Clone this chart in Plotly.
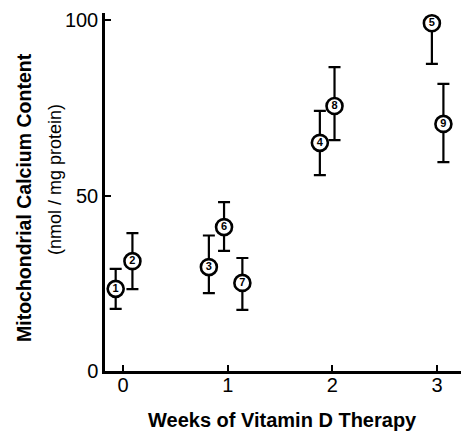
import plotly.graph_objects as go

# Data
labels = ["1", "2", "3", "6", "7", "4", "8", "5", "9"]
weeks = [-0.07, 0.09, 0.82, 0.965, 1.14, 1.88, 2.02, 2.95, 3.06]
calcium = [23.4, 31.3, 29.6, 41.0, 25.1, 65.0, 75.5, 99.1, 70.4]
err_plus = [5.7, 8.0, 9.0, 7.1, 7.1, 9.1, 11.1, 0.0, 11.4]
err_minus = [5.7, 8.0, 7.4, 6.8, 7.7, 9.2, 9.7, 11.6, 10.9]

x_ticks = [0, 1, 2, 3]
y_ticks = [0, 50, 100]

FONT = "Liberation Sans"

L, R, T, B = 105, 461, 13, 371
PW, PH = R - L, B - T

fig = go.Figure()
fig.add_trace(go.Scatter(
    x=weeks, y=calcium,
    mode="markers+text",
    text=["<b>%s</b>" % s for s in labels],
    textposition="middle center",
    textfont=dict(family=FONT, size=11, color="black"),
    marker=dict(symbol="circle", size=16, color="white",
                line=dict(color="black", width=2.6)),
    error_y=dict(type="data", symmetric=False, array=err_plus,
                 arrayminus=err_minus, color="black", thickness=2.2, width=6),
    showlegend=False,
    cliponaxis=False,
))

fig.update_layout(
    width=465, height=433,
    margin=dict(l=L, r=465 - R, t=T, b=433 - B, autoexpand=False),
    paper_bgcolor="white", plot_bgcolor="white",
    font=dict(family=FONT, color="black"),
    xaxis=dict(range=[-0.172, 3.228], tickvals=x_ticks,
               ticktext=[str(v) for v in x_ticks], automargin=False,
               showgrid=False, zeroline=False, showline=True,
               linecolor="black", linewidth=2.5,
               ticks="inside", ticklen=6, tickwidth=2, tickcolor="black",
               ticklabelstandoff=-6,
               tickfont=dict(family=FONT, size=20, color="black")),
    yaxis=dict(range=[0, 102], tickvals=y_ticks,
               ticktext=[str(v) for v in y_ticks], automargin=False,
               showgrid=False, zeroline=False, showline=True,
               linecolor="black", linewidth=2.5,
               ticks="inside", ticklen=6, tickwidth=2, tickcolor="black",
               tickfont=dict(family=FONT, size=20, color="black")),
    annotations=[
        dict(text="<b>Weeks of Vitamin D Therapy</b>", xref="paper", yref="paper",
             x=(282 - L) / PW, y=-(433 - B) / PH, showarrow=False,
             xanchor="center", yanchor="bottom",
             font=dict(family=FONT, size=20, color="black")),
        dict(text="<b>Mitochondrial Calcium Content</b>", xref="paper", yref="paper",
             x=-(L - 24) / PW, y=(B - 198) / PH, showarrow=False, textangle=-90,
             xanchor="center", yanchor="middle",
             font=dict(family=FONT, size=19.5, color="black")),
        dict(text="(nmol / mg protein)", xref="paper", yref="paper",
             x=-(L - 55) / PW, y=(B - 180) / PH, showarrow=False, textangle=-90,
             xanchor="center", yanchor="middle",
             font=dict(family=FONT, size=18, color="black")),
    ],
)

fig.write_html("out.html",
               config={"displayModeBar": False},
               post_script="document.body.style.margin='0';"
                           "document.body.style.padding='0';")
